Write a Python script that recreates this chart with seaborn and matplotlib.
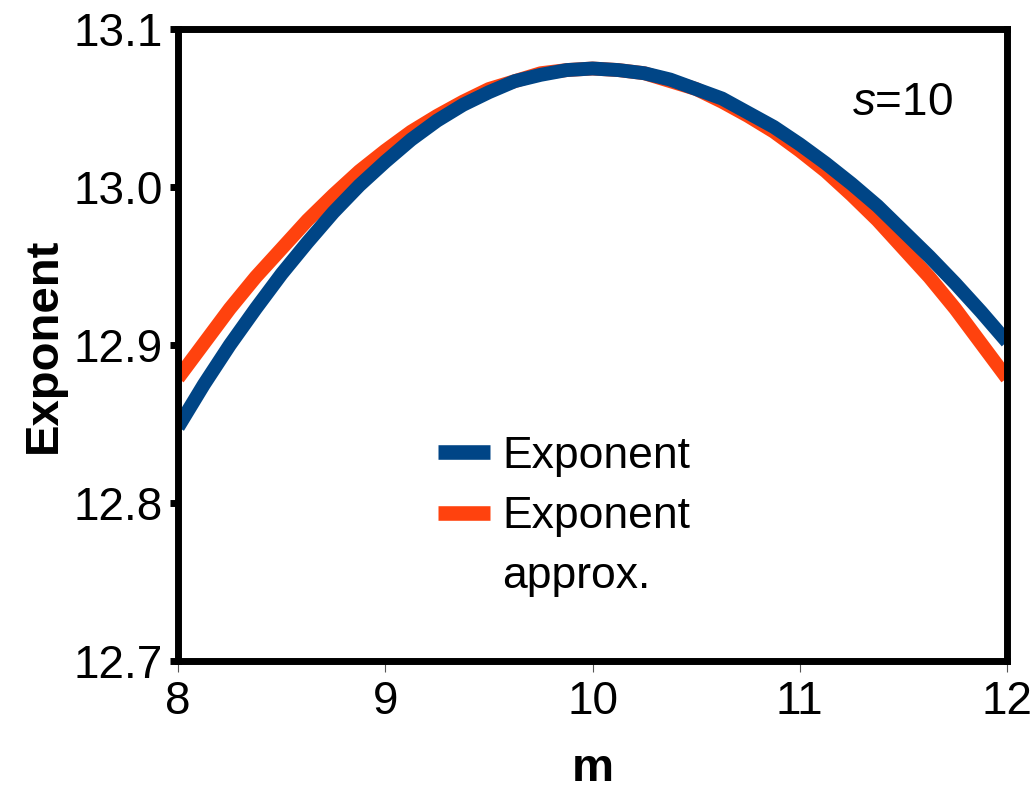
import numpy as np
import pandas as pd
import matplotlib
matplotlib.use("Agg")
import matplotlib.pyplot as plt
import seaborn as sns
from matplotlib.lines import Line2D

# ---- data ----
m_values = [8.000, 8.125, 8.250, 8.375, 8.500, 8.625, 8.750, 8.875,
            9.000, 9.125, 9.250, 9.375, 9.500, 9.625, 9.750, 9.875,
            10.000, 10.125, 10.250, 10.375, 10.500, 10.625, 10.750, 10.875,
            11.000, 11.125, 11.250, 11.375, 11.500, 11.625, 11.750, 11.875, 12.000]
exponent = [12.848, 12.875, 12.900, 12.923, 12.945, 12.965, 12.984, 13.001,
            13.016, 13.030, 13.042, 13.052, 13.060, 13.067, 13.071, 13.074,
            13.075, 13.074, 13.072, 13.068, 13.062, 13.056, 13.047, 13.038,
            13.027, 13.015, 13.002, 12.988, 12.972, 12.956, 12.939, 12.921, 12.902]
exponent_approx = [12.879, 12.901, 12.923, 12.943, 12.961, 12.979, 12.995, 13.010,
                   13.023, 13.035, 13.045, 13.054, 13.062, 13.067, 13.072, 13.074,
                   13.075, 13.074, 13.072, 13.067, 13.062, 13.054, 13.045, 13.035,
                   13.023, 13.010, 12.995, 12.979, 12.961, 12.943, 12.923, 12.901, 12.879]
series_names = ["Exponent", "Exponent approx."]
series_colors = ["#004586", "#FF420E"]
x_ticks = [8, 9, 10, 11, 12]
y_ticks = [12.7, 12.8, 12.9, 13.0, 13.1]

df = pd.DataFrame({
    "m": m_values * 2,
    "value": exponent + exponent_approx,
    "series": [series_names[0]] * len(m_values) + [series_names[1]] * len(m_values),
})

sns.set_style("white")
plt.rcParams["font.family"] = ["Liberation Sans", "DejaVu Sans"]
plt.rcParams["mathtext.fontset"] = "custom"
plt.rcParams["mathtext.rm"] = "Liberation Sans"
plt.rcParams["mathtext.it"] = "Liberation Sans:italic"
plt.rcParams["text.color"] = "black"
plt.rcParams["axes.labelcolor"] = "black"
plt.rcParams["xtick.color"] = "black"
plt.rcParams["ytick.color"] = "black"

fig = plt.figure(figsize=(10.35, 7.92), dpi=100)
ax = fig.add_axes([178 / 1035, 1 - 661 / 792, 829 / 1035, 632 / 792])

sns.lineplot(data=df, x="m", y="value", hue="series", hue_order=series_names,
             palette=series_colors, linewidth=10, legend=False, ax=ax,
             sort=False, estimator=None)
lines = ax.get_lines()
for ln in lines:
    ln.set_solid_capstyle("butt")
    ln.set_solid_joinstyle("round")
# blue (exact exponent) is drawn above the approximation
lines[0].set_zorder(3)
lines[1].set_zorder(2)

ax.set_xlim(8, 12)
ax.set_ylim(12.7, 13.1)
ax.set_xticks(x_ticks)
ax.set_xticklabels([str(t) for t in x_ticks])
ax.set_yticks(y_ticks)
ax.set_yticklabels([f"{t:.1f}" for t in y_ticks])

for sp in ax.spines.values():
    sp.set_visible(True)
    sp.set_linewidth(5)
    sp.set_color("black")
    sp.set_zorder(4)

ax.tick_params(axis="y", which="major", left=True, length=6, width=5, color="black",
               labelsize=33, labelcolor="black", pad=5, direction="out")
ax.tick_params(axis="x", which="major", bottom=True, length=8, width=0.8, color="#555555",
               labelsize=33, labelcolor="black", pad=6, direction="out")

ax.set_xlabel("m", fontsize=34, fontweight="bold", color="black", va="baseline")
ax.set_ylabel("Exponent", fontsize=34, fontweight="bold", color="black")
ax.yaxis.set_label_coords(-0.135, 0.5)
ax.xaxis.set_label_coords(0.5, -0.19)

ax.text((852 - 178) / 829, (661 - 115) / 632, r"$\mathit{s}$=10", transform=ax.transAxes,
        fontsize=33, ha="left", va="baseline", color="black")

handles = [Line2D([], [], color=series_colors[0], linewidth=10.5, solid_capstyle="butt"),
           Line2D([], [], color=series_colors[1], linewidth=10.5, solid_capstyle="butt"),
           Line2D([], [], color="none", linewidth=0)]
labels = ["Exponent", "Exponent", "approx."]
leg = ax.legend(handles, labels, loc="upper left",
                bbox_to_anchor=((438 - 178) / 829, (661 - 436) / 632),
                frameon=False, fontsize=32, handlelength=1.17, handletextpad=0.27,
                labelspacing=0.43, borderpad=0, borderaxespad=0)
for t in leg.get_texts():
    t.set_color("black")

fig.savefig("out.png", dpi=100)
